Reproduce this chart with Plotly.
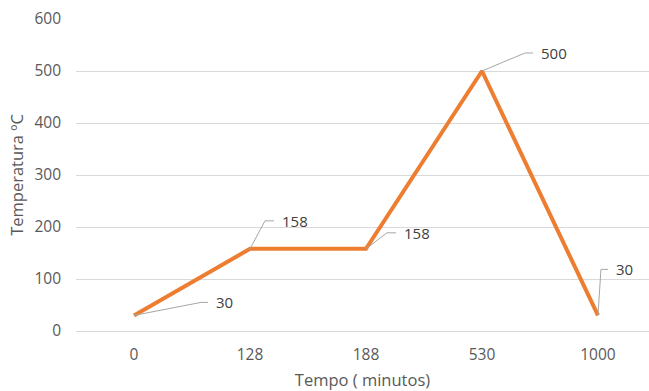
import plotly.graph_objects as go

categories = ["0", "128", "188", "530", "1000"]
temperatures = [30, 158, 158, 500, 30]
y_ticks = [0, 100, 200, 300, 400, 500, 600]

# leader-line styling (pixel offsets from each point): elbow dx, dy, horizontal end, label x
leader_styles = [
    (67, 13, 74, 80),
    (15, 28, 24, 30),
    (21, 16, 30, 36),
    (43, 18, 51, 57),
    (3, 46, 10, 16),
]

FONT = "Open Sans"
TXT = "#595959"

fig = go.Figure()
fig.add_trace(go.Scatter(
    x=categories, y=temperatures, mode="lines",
    line=dict(color="#ED7D31", width=4), hoverinfo="skip", showlegend=False,
))

shapes = []
annotations = []
for i, (cat, val) in enumerate(zip(categories, temperatures)):
    dx, dy, hx, lx = leader_styles[i]
    shapes.append(dict(
        type="path", xref="x", yref="y", xsizemode="pixel", ysizemode="pixel",
        xanchor=i, yanchor=val,
        path=f"M0,0 L{dx},{dy} L{hx},{dy}",
        line=dict(color="#A6A6A6", width=1),
    ))
    annotations.append(dict(
        x=i, y=val, xref="x", yref="y", text=str(val), showarrow=False,
        xanchor="left", yanchor="middle", xshift=lx, yshift=dy,
        font=dict(family=FONT, size=15, color="#404040"),
    ))

fig.update_layout(
    width=649, height=391,
    margin=dict(l=76, r=0, t=19, b=60),
    paper_bgcolor="white", plot_bgcolor="white",
    shapes=shapes, annotations=annotations,
    xaxis=dict(
        type="category", range=[-0.5, 4.44], showgrid=False, zeroline=False,
        showline=False, ticks="", ticklabelstandoff=12,
        tickfont=dict(family=FONT, size=15.5, color=TXT),
        title=dict(text="Tempo ( minutos)", font=dict(family=FONT, size=16.5, color=TXT), standoff=11),
    ),
    yaxis=dict(
        range=[0, 600], tickvals=y_ticks, showgrid=True, gridcolor="#D9D9D9", gridwidth=1,
        zeroline=True, zerolinecolor="#D9D9D9", zerolinewidth=1, showline=False, ticks="",
        ticklabelstandoff=14,
        tickfont=dict(family=FONT, size=15.5, color=TXT),
        title=dict(text="Temperatura ºC", font=dict(family=FONT, size=16.5, color=TXT), standoff=6),
    ),
)

fig.write_html("out.html")
